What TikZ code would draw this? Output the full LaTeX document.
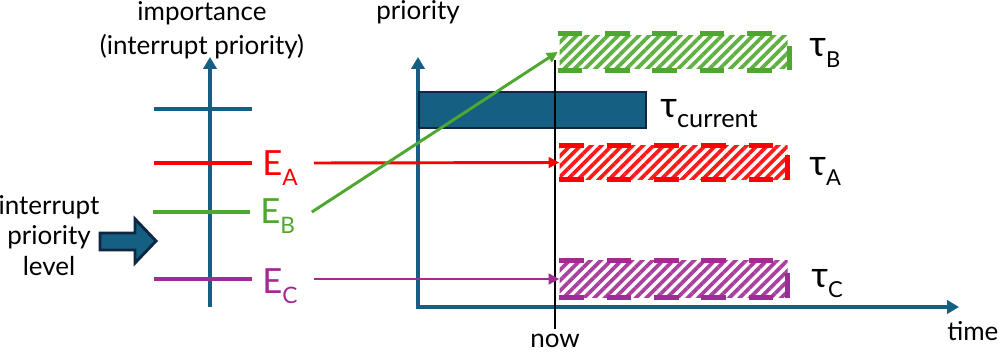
\documentclass[tikz,border=0pt]{standalone}
\usepackage{fontspec}
\setmainfont{Lato}
\usepackage{tikz}
\usetikzlibrary{arrows.meta, positioning, patterns.meta}
\definecolor{axisblue}{HTML}{156082}
\definecolor{navy}{HTML}{0E2841}
\definecolor{evtred}{HTML}{FF0000}
\definecolor{evtgreen}{HTML}{4EA72E}
\definecolor{evtpurple}{HTML}{A02B93}
\newcommand{\evtname}[1]{{\fontsize{26}{30}\selectfont E}\raisebox{-7.5pt}{\fontsize{17}{20}\selectfont #1}}
\newcommand{\taskname}[2][16.5]{{\fontsize{27}{30}\selectfont τ}\raisebox{-8pt}{\fontsize{#1}{20}\selectfont #2}}

\begin{document}
\begin{tikzpicture}[x=0.75pt, y=-0.75pt,
    txt/.style={font=\fontsize{19.5}{25.5}\selectfont, inner sep=0pt},
    axisline/.style={axisblue, line width=3pt, line join=miter},
    lvl/.style={#1, line width=2.6pt},
    evt/.style={#1, line width=2.2pt, -{Triangle[length=8pt,width=8pt]}},
    taskbox/.style={minimum width=171pt, inner sep=0pt, pattern={Lines[angle=45,distance=5.5pt,line width=2.8pt]}, pattern color=#1!90},
    taskedge/.style={#1, line width=4pt, dash pattern=on 18.5pt off 17pt}]

    % Khung cố định của hình
    \useasboundingbox (0,0) rectangle (998,353);

    % Trục "importance" bên trái
    \node[txt, align=center, anchor=north] (impTitle) at (202,1) {importance\\(interrupt priority)};
    \draw[axisline, -{Triangle[length=9pt,width=10pt]}] (210,307) coordinate (impBot) -- (210,57) coordinate (impTop);

    % Các mức ưu tiên ngắt
    \draw[lvl=axisblue] (154,109) -- (252,109);
    \draw[lvl=evtred] (154,163) -- (252,163) coordinate (lvA);
    \draw[lvl=evtgreen] (153,212) -- (250,212) coordinate (lvB);
    \draw[lvl=evtpurple] (154,279) -- (252,279) coordinate (lvC);
    \node[anchor=base west, inner sep=0pt, evtred] (eA) at (262,175) {\evtname{A}};
    \node[anchor=base west, inner sep=0pt, evtgreen] (eB) at (260,223) {\evtname{B}};
    \node[anchor=base west, inner sep=0pt, evtpurple] (eC) at (262,293) {\evtname{C}};

    % Mũi tên khối "interrupt priority level"
    \node[txt, align=center, anchor=north, font=\fontsize{19.5}{23}\selectfont] (iplLbl) at (49,195) {interrupt\\priority\\level};
    \draw[navy, line width=2.2pt, fill=axisblue, line join=miter] (100,233) -- (135,233) -- (135,219) -- (156,241) -- (135,263) -- (135,250) -- (100,250) -- cycle;

    % Trục priority / time
    \node[txt, anchor=base] (prioTitle) at (418,20) {priority};
    \draw[axisline, {Triangle[length=9pt,width=10pt]}-{Triangle[length=9pt,width=10pt]}] (418,57) -- (418,307) coordinate (origin) -- (959,307);
    \node[txt, anchor=base west] (timeLbl) at (947,340) {time};

    % Tác vụ đang chạy
    \node[draw=navy, line width=1.5pt, fill=axisblue, minimum width=170pt, minimum height=27pt, inner sep=0pt] (cur) at (532.5,110) {};
    \node[anchor=base west, inner sep=0pt] (curLbl) at (660,117) {\taskname[19]{current}};

    % Các tác vụ chờ (gạch chéo, viền nét đứt)
    \node[taskbox=evtgreen, minimum height=24.75pt] (tB) at (673.5,52) {};
    \node[taskbox=evtred, minimum height=25.5pt] (tA) at (673.5,162.5) {};
    \node[taskbox=evtpurple, minimum height=27.75pt] (tC) at (673.5,279) {};
    \foreach \t/\c in {tB/evtgreen, tA/evtred, tC/evtpurple}
        \draw[taskedge=\c] (\t.north west) -- (\t.north east) (\t.south west) -- (\t.south east) (\t.south east) -- (\t.north east);
    \node[anchor=base west, inner sep=0pt] (tBLbl) at (809,57) {\taskname{B}};
    \node[anchor=base west, inner sep=0pt] (tALbl) at (809,175) {\taskname{A}};
    \node[anchor=base west, inner sep=0pt] (tCLbl) at (811,287) {\taskname{C}};

    % Đường "now"
    \node[txt, anchor=base] (nowLbl) at (555,347) {now};
    \draw[black, line width=1.5pt, shorten >=3pt] (555,60) -- (nowLbl.north);

    % Sự kiện kích hoạt tác vụ
    \draw[evt=evtred] ([xshift=12pt]eA.east |- lvA) -- (tA.west);
    \draw[evt=evtgreen] ([xshift=12.5pt]eB.east |- lvB) -- (tB.west);
    \draw[evt=evtpurple] ([xshift=12pt]eC.east |- lvC) -- (tC.west);
\end{tikzpicture}
\end{document}
